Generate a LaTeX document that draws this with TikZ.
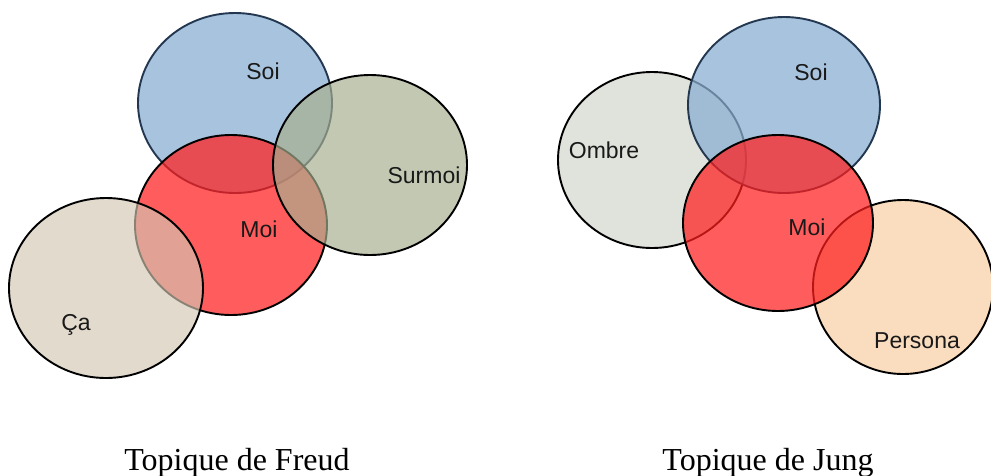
\documentclass[tikz,border=0pt]{standalone}
\usepackage{fontspec}
\setmainfont{Liberation Serif}
\newfontfamily\blobfont{Liberation Sans}
\usetikzlibrary{shapes.geometric}

\definecolor{soiblue}{RGB}{139,175,210}
\definecolor{soiedge}{RGB}{35,55,80}
\definecolor{moired}{RGB}{255,30,30}
\definecolor{surmoigreen}{RGB}{167,174,142}
\definecolor{cabeige}{RGB}{210,199,179}
\definecolor{ombregrey}{RGB}{224,227,220}
\definecolor{personapeach}{RGB}{250,220,190}

\tikzset{
  blob/.style={ellipse, draw=black, line width=1.9pt, inner sep=0pt},
  soi/.style={blob, draw=soiedge, fill=soiblue, fill opacity=0.75},
  moi/.style={blob, fill=moired, fill opacity=0.72},
  blobtext/.style={anchor=base, text=black!90, font=\blobfont\fontsize{23}{27}\selectfont},
  caption/.style={anchor=base, font=\fontsize{32}{38}\selectfont}
}

\begin{document}
\begin{tikzpicture}[x=1pt, y=-1pt]
  \useasboundingbox (0,0) rectangle (991,475);

  % Freud
  \node[soi, minimum width=194pt, minimum height=180pt] (soiF) at (235,103) {};
  \node[moi, minimum width=192pt, minimum height=180pt] (moiF) at (231,225) {};
  \node[blob, fill=surmoigreen, fill opacity=0.68, minimum width=194pt, minimum height=180pt] (surmoiF) at (370,165) {};
  \node[blob, fill=cabeige, fill opacity=0.66, minimum width=194pt, minimum height=180pt] (caF) at (106,288) {};

  \node[blobtext] (soiFtxt) at (263,79) {Soi};
  \node[blobtext] (moiFtxt) at (259,237) {Moi};
  \node[blobtext] (surmoiFtxt) at (424,183) {Surmoi};
  \node[blobtext] (caFtxt) at (76,330) {Ça};

  % Jung
  \node[blob, fill=ombregrey, minimum width=188pt, minimum height=176pt] (ombreJ) at (652,160) {};
  \node[soi, minimum width=192pt, minimum height=176pt] (soiJ) at (784,105) {};
  \node[blob, fill=personapeach, minimum width=180pt, minimum height=174pt] (personaJ) at (903,287) {};
  \node[moi, minimum width=190pt, minimum height=176pt] (moiJ) at (778,223) {};

  \node[blobtext] (soiJtxt) at (811,80) {Soi};
  \node[blobtext] (ombreJtxt) at (604,158) {Ombre};
  \node[blobtext] (moiJtxt) at (807,235) {Moi};
  \node[blobtext] (personaJtxt) at (917,348) {Persona};

  \node[caption] (freud) at (237,470) {Topique de Freud};
  \node[caption] (jung) at (768,470) {Topique de Jung};
\end{tikzpicture}
\end{document}
